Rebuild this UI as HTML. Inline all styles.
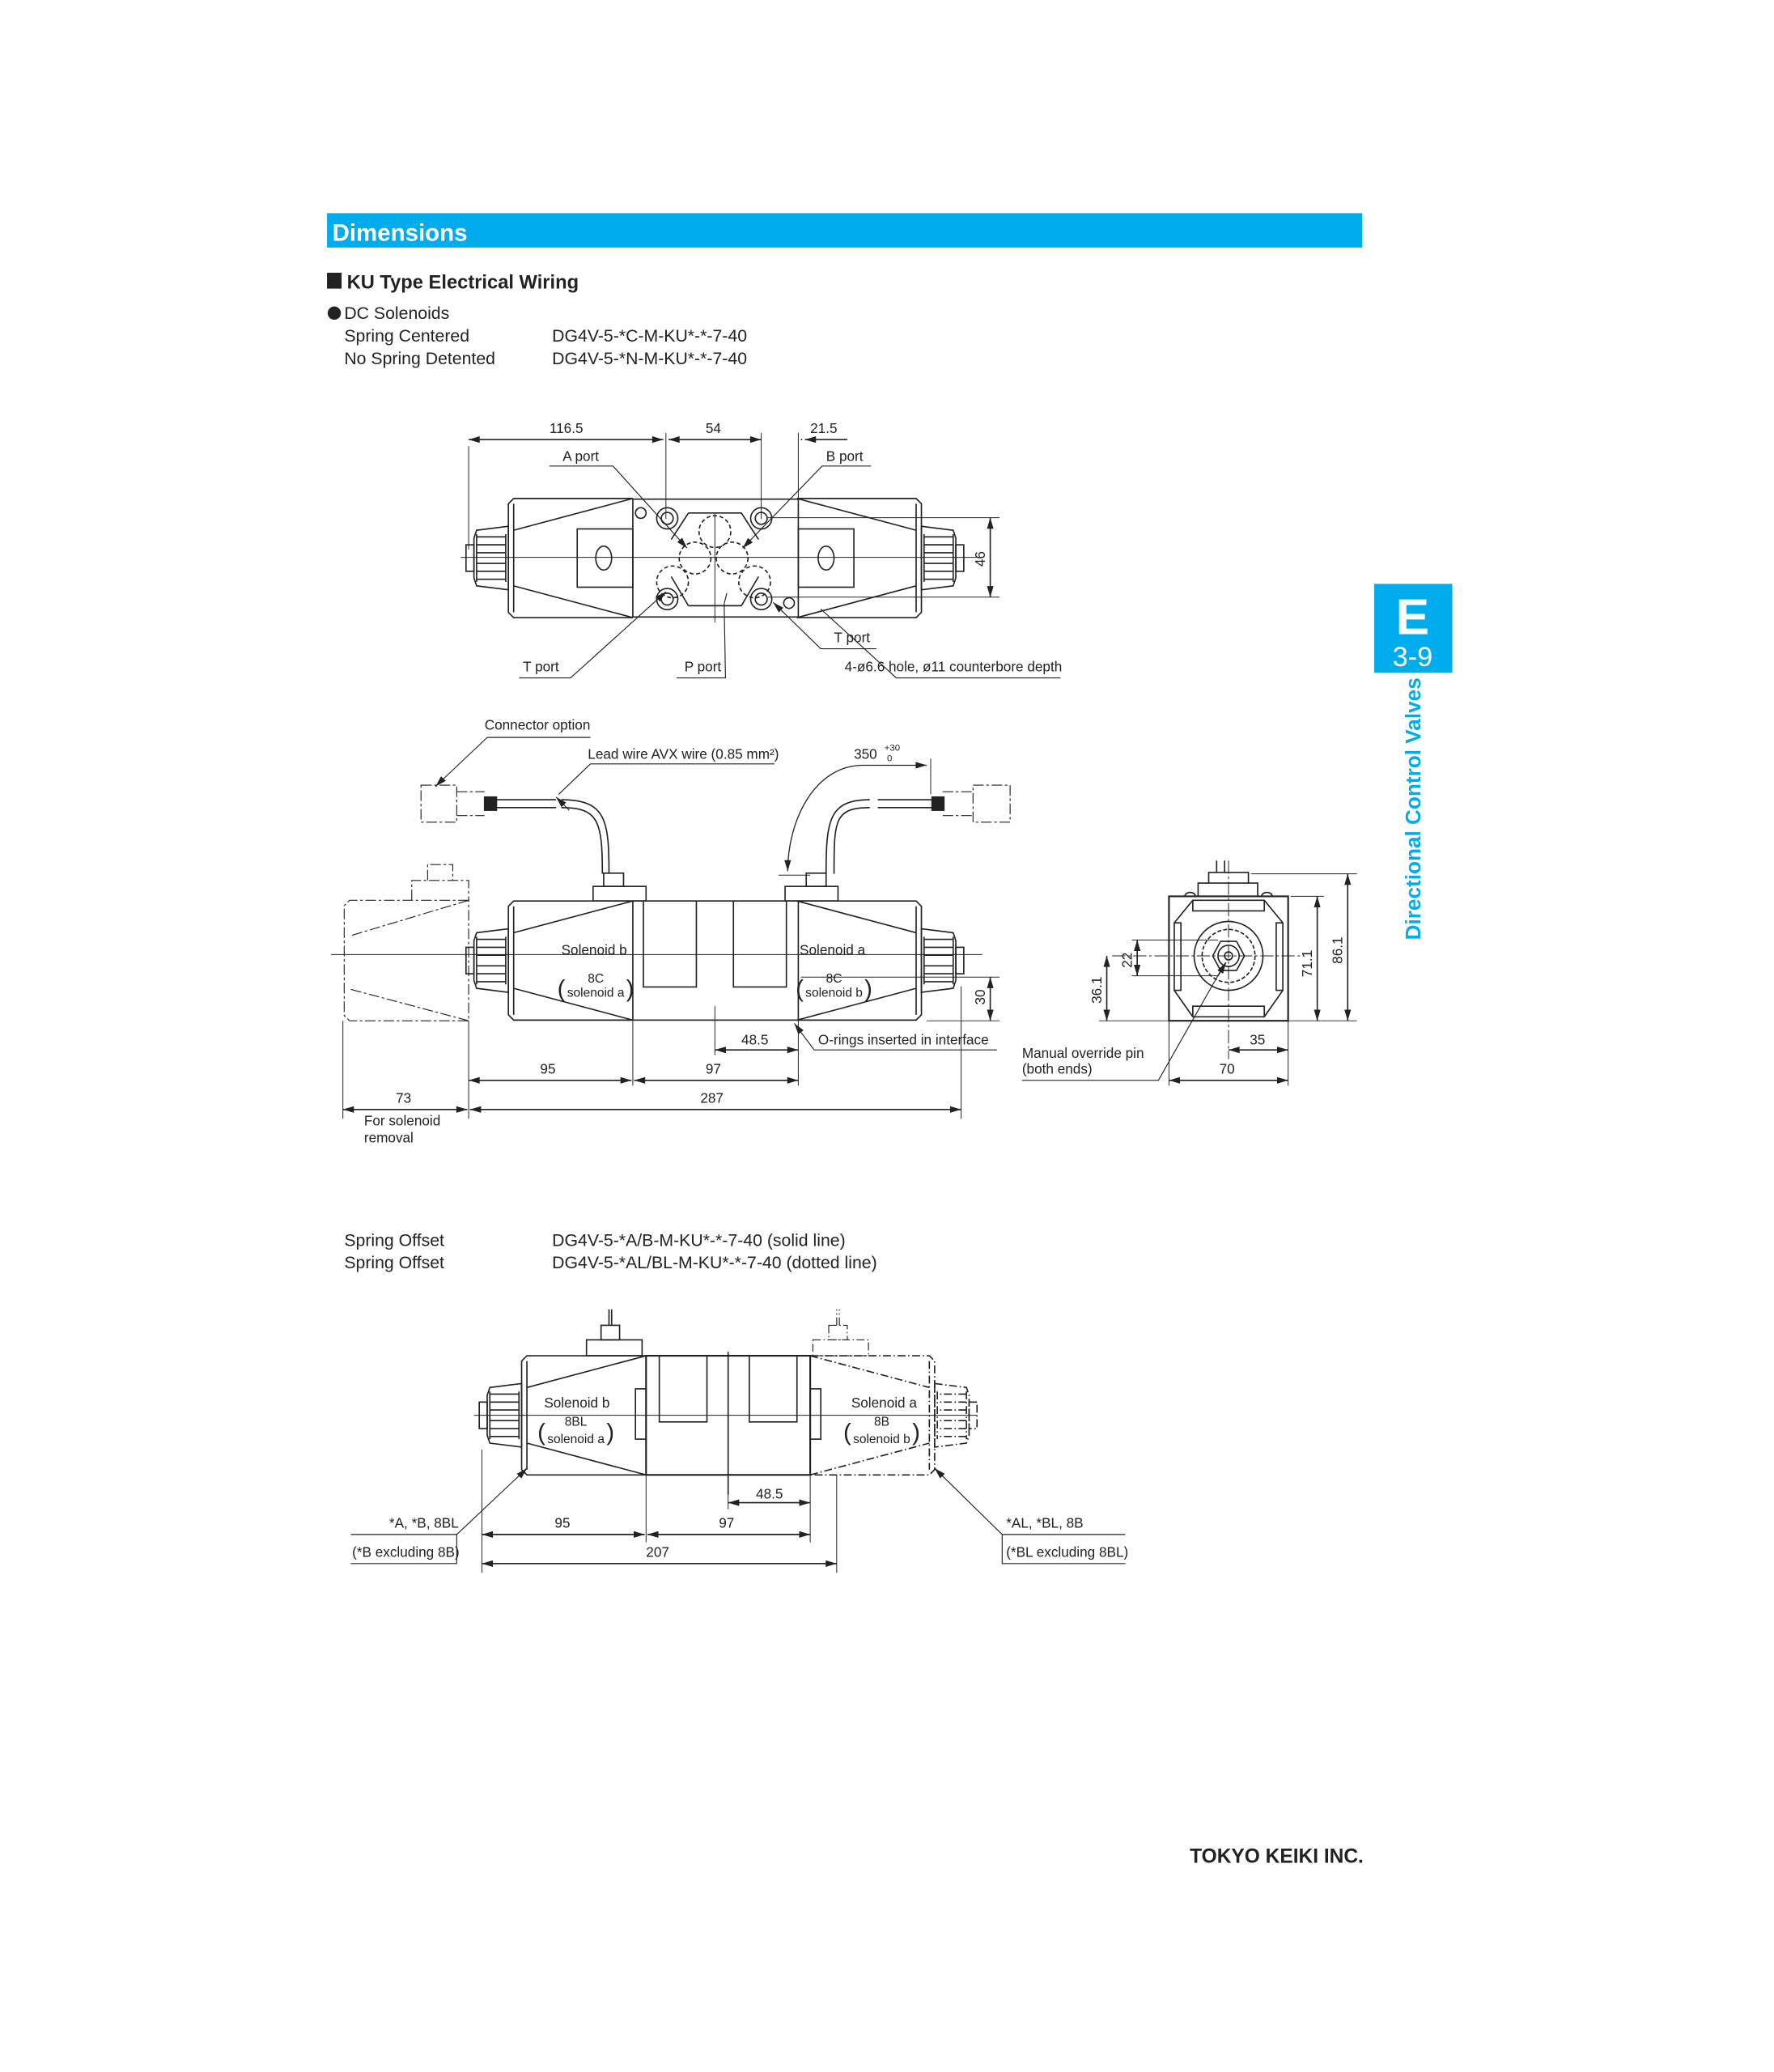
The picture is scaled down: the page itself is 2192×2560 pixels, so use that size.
<!DOCTYPE html>
<html><head><meta charset="utf-8"><style>
html,body{margin:0;padding:0;background:#fff;}
svg{display:block;}
text{font-family:"Liberation Sans",sans-serif;fill:#222;}
.d{font-size:10.5px;}
.s{font-size:9.5px;}
.b{font-size:13px;}
</style></head><body>
<svg width="2192" height="2560" viewBox="0 0 1340 1565" xmlns="http://www.w3.org/2000/svg">
<defs>
<marker id="a" viewBox="0 0 10 6" refX="10" refY="3" markerWidth="9" markerHeight="5" orient="auto-start-reverse" markerUnits="userSpaceOnUse"><path d="M0,0 L10,3 L0,6 Z" fill="#222"/></marker>
<g id="solL" fill="none" stroke="#222" stroke-width="1">
<path d="M-62,-45 L-152,-45 L-156,-41 L-156,41 L-152,45 L-62,45"/>
<path d="M-62,-45 L-152,-21 M-62,45 L-152,21 M-152,-41 L-152,41"/>
<path d="M-156,-24 L-180,-21 L-182,-15 L-182,15 L-180,21 L-156,24 Z"/>
<path d="M-180,-16 h22 M-180,-10 h22 M-180,-4 h22 M-180,4 h22 M-180,10 h22 M-180,16 h22 M-180,-18 v36 M-158,-18 v36"/>
<rect x="-188" y="-10" width="6" height="20"/>
</g>
<g id="solR"><use href="#solL" transform="scale(-1,1)"/></g>
</defs>

<rect x="247" y="161" width="782" height="26" fill="#00acec"/>
<text x="251" y="182" style="font-size:18px;font-weight:bold;fill:#fff">Dimensions</text>
<rect x="247" y="206" width="11" height="12" fill="#222"/>
<text x="262" y="218" style="font-size:14.5px;font-weight:bold">KU Type Electrical Wiring</text>
<circle cx="252.5" cy="236.5" r="5" fill="#222"/>
<text x="260" y="241" class="b">DC Solenoids</text>
<text x="260" y="258" class="b">Spring Centered</text>
<text x="417" y="258" class="b">DG4V-5-*C-M-KU*-*-7-40</text>
<text x="260" y="275" class="b">No Spring Detented</text>
<text x="417" y="275" class="b">DG4V-5-*N-M-KU*-*-7-40</text>

<rect x="1038" y="441" width="59" height="67" fill="#00acec"/>
<text x="1067" y="479" text-anchor="middle" style="font-size:38px;font-weight:bold;fill:#fff">E</text>
<text x="1067" y="503" text-anchor="middle" style="font-size:21px;fill:#fff">3-9</text>
<text transform="translate(1073,710) rotate(-90)" style="font-size:16px;font-weight:bold;fill:#00acec">Directional Control Valves</text>

<!-- TOP VIEW -->
<g stroke="#222" fill="none" stroke-width="1">
<g transform="translate(540,421.5)"><use href="#solL"/><use href="#solR"/>
<rect x="-62" y="-44.5" width="125" height="89"/>
<rect x="-104" y="-22" width="42" height="44"/><rect x="63" y="-22" width="42" height="44"/>
<ellipse cx="-84" cy="0" rx="6" ry="9"/><ellipse cx="84" cy="0" rx="6" ry="9"/>
<path d="M-20,-34 L20,-34 L33,-14 M-20,-34 L-33,-14 M-20,36 L20,36 L33,14 M-20,36 L-33,14"/>
<circle cx="-36" cy="-30" r="8"/><circle cx="-36" cy="-30" r="4.5"/>
<circle cx="35" cy="-30" r="8"/><circle cx="35" cy="-30" r="4.5"/>
<circle cx="-36" cy="31" r="8"/><circle cx="-36" cy="31" r="4.5"/>
<circle cx="35" cy="31" r="8"/><circle cx="35" cy="31" r="4.5"/>
<circle cx="-56" cy="-34" r="4"/><circle cx="56" cy="34" r="4"/>
<g stroke-dasharray="3,2"><circle cx="0" cy="-20" r="12"/><circle cx="-15" cy="0" r="12"/><circle cx="13" cy="0" r="12"/><circle cx="-32" cy="18" r="12"/><circle cx="30" cy="18" r="12"/></g>
</g>
<path d="M348,421 H740 M540,388 V470" stroke-width="0.6"/>
<path d="M354,337 V415 M503,327 V392 M575,327 V392 M603,327 V377" stroke-width="0.6"/>
<path d="M354,332 H501" marker-start="url(#a)" marker-end="url(#a)"/>
<path d="M505,332 H575" marker-start="url(#a)" marker-end="url(#a)"/>
<path d="M608,332 H640 M605,332 H606" marker-start="url(#a)"/>
<path d="M580,391 H755 M580,451 H755" stroke-width="0.6"/>
<path d="M748,391 V451" marker-start="url(#a)" marker-end="url(#a)"/>
<path d="M415,352 H463 L519,414" marker-end="url(#a)" stroke-width="0.7"/>
<path d="M658,352 H621 L561,414" marker-end="url(#a)" stroke-width="0.7"/>
<path d="M392,512 H431 L503,447" marker-end="url(#a)" stroke-width="0.7"/>
<path d="M511,512 H548 L547,456" stroke-width="0.7"/><path d="M547,456 L549,448" stroke-width="0.7"/>
<path d="M620,460 L677,512 H801" stroke-width="0.7"/>
<path d="M662,490 L620,490 L584,455" marker-end="url(#a)" stroke-width="0.7"/>
</g>
<text x="415" y="327" class="d">116.5</text><text x="533" y="327" class="d">54</text><text x="612" y="327" class="d">21.5</text>
<text x="425" y="348" class="d">A port</text><text x="624" y="348" class="d">B port</text>
<text x="395" y="507" class="d">T port</text><text x="517" y="507" class="d">P port</text>
<text x="630" y="485" class="d">T port</text><text x="638" y="507" class="d">4-ø6.6 hole, ø11 counterbore depth</text>
<text transform="translate(744,428) rotate(-90)" class="d">46</text>

<!-- FRONT VIEW -->
<g stroke="#222" fill="none" stroke-width="1">
<g transform="translate(540,725.5)"><use href="#solL"/><use href="#solR"/>
<rect x="-62" y="-45" width="125" height="90"/>
<path d="M-54,-45 V20 H-14 V-45 M14,-45 V20 H54 V-45"/>
<rect x="-92" y="-56" width="40" height="11"/><rect x="-84" y="-66" width="15" height="10"/>
<rect x="53" y="-56" width="40" height="11"/><rect x="69" y="-66" width="15" height="10"/>
</g>
<g stroke-dasharray="8,2,2,2" stroke-width="0.7">
<path d="M354,680 H264 L260,684 V767 L264,771 H354 Z M354,680 L264,707 M354,771 L264,747"/>
<path d="M311,680 V665 H354 V680 M323,665 V653 H342 V665"/>
<path d="M318,593 H345 V621 H318 Z M345,598 H366 M345,616 H366 M712,598 H735 M712,616 H735 M735,593 H763 V621 H735 Z"/>
</g>
<path d="M250,721 H742" stroke-width="0.6"/>
<path d="M368,604 H420 M368,610 H420 M663,604 H712 M663,610 H712"/>
<rect x="366" y="602" width="9" height="10" fill="#222"/><rect x="704" y="602" width="9" height="10" fill="#222"/>
<path d="M424,604 C458,604 460,620 460,660 M424,610 C452,610 455,620 455,660"/>
<path d="M657,604 C626,604 624,620 624,660 M657,610 C630,610 630,620 630,660"/>
<path d="M430,612 L420,602" marker-end="url(#a)" stroke-width="0.7"/>
<path d="M446,577 H585 M446,577 L422,600" stroke-width="0.7"/>
<path d="M368,557 H446 M368,557 L330,593" stroke-width="0.7"/><path d="M335,588 L329,594" marker-end="url(#a)"/>
<path d="M700,578 H652 C615,578 595,620 595,658" marker-start="url(#a)" marker-end="url(#a)" stroke-width="0.8"/>
<path d="M703,573 V600 M588,661 H612" stroke-width="0.6"/>
<path d="M354,771 V820 M478,771 V820 M603,771 V820 M540,760 V797 M726,745 V845 M259,771 V845 M354,800 V845" stroke-width="0.6"/>
<path d="M605,738 H755 M700,771 H755" stroke-width="0.6"/>
<path d="M748,738 V771" marker-start="url(#a)" marker-end="url(#a)"/>
<path d="M540,793 H603" marker-start="url(#a)" marker-end="url(#a)"/>
<path d="M354,816 H477" marker-start="url(#a)" marker-end="url(#a)"/>
<path d="M479,816 H603" marker-start="url(#a)" marker-end="url(#a)"/>
<path d="M259,838 H353" marker-start="url(#a)" marker-end="url(#a)"/>
<path d="M355,838 H726" marker-start="url(#a)" marker-end="url(#a)"/>
<path d="M753,793 H615 L600,773" marker-end="url(#a)" stroke-width="0.7"/>
</g>
<text x="424" y="721" class="d">Solenoid b</text><text x="604" y="721" class="d">Solenoid a</text>
<text x="450" y="742" class="s" text-anchor="middle">8C</text><text x="450" y="753" class="s" text-anchor="middle">solenoid a</text>
<text x="630" y="742" class="s" text-anchor="middle">8C</text><text x="630" y="753" class="s" text-anchor="middle">solenoid b</text>
<text x="421" y="753" style="font-size:18px">(</text><text x="473" y="753" style="font-size:18px">)</text>
<text x="601" y="753" style="font-size:18px">(</text><text x="653" y="753" style="font-size:18px">)</text>
<text transform="translate(744,759) rotate(-90)" class="d">30</text>
<text x="560" y="789" class="d">48.5</text><text x="618" y="789" class="d">O-rings inserted in interface</text>
<text x="408" y="811" class="d">95</text><text x="533" y="811" class="d">97</text>
<text x="299" y="833" class="d">73</text><text x="529" y="833" class="d">287</text>
<text x="275" y="850" class="d">For solenoid</text><text x="275" y="863" class="d">removal</text>
<text x="366" y="551" class="d">Connector option</text>
<text x="444" y="573" class="d">Lead wire AVX wire (0.85 mm²)</text>
<text x="645" y="573" class="d">350</text><text x="668" y="567" style="font-size:7px">+30</text><text x="670" y="575" style="font-size:7px">0</text>

<!-- END VIEW -->
<g stroke="#222" fill="none" stroke-width="1">
<rect x="883" y="677" width="90" height="94" stroke-width="1.3"/>
<path d="M901,680 H955 L969,697 V748 L955,768 H901 L887,748 V697 Z"/>
<path d="M901,680 V688 H955 V680 M901,768 V760 H955 V768 M887,697 H892 V748 H887 M969,697 H964 V748 H969"/>
<circle cx="928" cy="722" r="26"/><circle cx="928" cy="722" r="20" stroke-dasharray="3,1.5"/>
<path d="M916,722 L922,711 H934 L940,722 L934,733 H922 Z"/>
<circle cx="928" cy="722" r="8"/><circle cx="928" cy="722" r="3"/>
<path d="M905,677 V667 H950 V677 M913,667 V659 H943 V667 M919,659 V650 M925,659 V650"/>
<path d="M895,677 a4,3 0 0 1 8,0 M953,677 a4,3 0 0 1 8,0"/>
<path d="M840,722 H985 M928,650 V800" stroke-width="0.6" stroke-dasharray="10,2,2,2"/>
<path d="M945,660 H1025 M975,677 H1000 M830,771 H1025 M855,710 H920 M855,737 H920" stroke-width="0.6"/>
<path d="M883,771 V820 M973,771 V820" stroke-width="0.6"/>
<path d="M1018,660 V771" marker-start="url(#a)" marker-end="url(#a)"/>
<path d="M995,677 V771" marker-start="url(#a)" marker-end="url(#a)"/>
<path d="M836,722 V771" marker-start="url(#a)" marker-end="url(#a)"/>
<path d="M859,710 V737" marker-start="url(#a)" marker-end="url(#a)"/>
<path d="M928,793 H973" marker-start="url(#a)" marker-end="url(#a)"/>
<path d="M883,816 H973" marker-start="url(#a)" marker-end="url(#a)"/>
<path d="M772,816 H875 L925,728" stroke-width="0.7"/><path d="M920,737 L926,727" marker-end="url(#a)"/>
</g>
<text transform="translate(1014,728) rotate(-90)" class="d">86.1</text>
<text transform="translate(991,738) rotate(-90)" class="d">71.1</text>
<text transform="translate(832,758) rotate(-90)" class="d">36.1</text>
<text transform="translate(855,731) rotate(-90)" class="d">22</text>
<text x="944" y="789" class="d">35</text><text x="921" y="811" class="d">70</text>
<text x="772" y="799" class="d">Manual override pin</text><text x="772" y="811" class="d">(both ends)</text>

<!-- SPRING OFFSET -->
<text x="260" y="941" class="b">Spring Offset</text><text x="417" y="941" class="b">DG4V-5-*A/B-M-KU*-*-7-40 (solid line)</text>
<text x="260" y="958" class="b">Spring Offset</text><text x="417" y="958" class="b">DG4V-5-*AL/BL-M-KU*-*-7-40 (dotted line)</text>

<g stroke="#222" fill="none" stroke-width="1">
<g transform="translate(550,1069)">
<use href="#solL"/>
<g stroke-dasharray="6,2,1,2" stroke-width="0.7"><use href="#solR"/></g>
<rect x="-62" y="-45" width="124" height="90" stroke-width="1.3"/>
<path d="M-52,-45 V5 H-16 V-45 M16,-45 V5 H52 V-45 M0,-48 V60"/>
<rect x="-70" y="-20" width="8" height="38"/><rect x="62" y="-20" width="8" height="38"/>
<rect x="-107" y="-57" width="42" height="12"/><rect x="-96" y="-68" width="14" height="11"/><path d="M-90,-68 V-80 M-88,-68 V-80"/>
<g stroke-dasharray="6,2,1,2" stroke-width="0.7"><rect x="64" y="-57" width="42" height="12"/><rect x="76" y="-68" width="14" height="11"/><path d="M82,-68 V-80 M84,-68 V-80"/></g>
</g>
<path d="M358,1069 H738" stroke-width="0.6"/>
<path d="M364,1095 V1188 M488,1114 V1165 M612,1114 V1165 M632,1114 V1188 M550,1100 V1140" stroke-width="0.6"/>
<path d="M550,1135 H612" marker-start="url(#a)" marker-end="url(#a)"/>
<path d="M364,1159 H487" marker-start="url(#a)" marker-end="url(#a)"/>
<path d="M489,1159 H612" marker-start="url(#a)" marker-end="url(#a)"/>
<path d="M364,1181 H632" marker-start="url(#a)" marker-end="url(#a)"/>
<path d="M265,1159 H345 L397,1110 M345,1159 V1181 H265" stroke-width="0.7"/><path d="M392,1115 L398,1109" marker-end="url(#a)"/>
<path d="M850,1159 H757 L707,1110 M757,1159 V1181 H850" stroke-width="0.7"/><path d="M712,1115 L706,1109" marker-end="url(#a)"/>
</g>
<text x="411" y="1063" class="d">Solenoid b</text><text x="643" y="1063" class="d">Solenoid a</text>
<text x="435" y="1077" class="s" text-anchor="middle">8BL</text><text x="435" y="1090" class="s" text-anchor="middle">solenoid a</text>
<text x="666" y="1077" class="s" text-anchor="middle">8B</text><text x="666" y="1090" class="s" text-anchor="middle">solenoid b</text>
<text x="406" y="1088" style="font-size:18px">(</text><text x="458" y="1088" style="font-size:18px">)</text>
<text x="637" y="1088" style="font-size:18px">(</text><text x="689" y="1088" style="font-size:18px">)</text>
<text x="571" y="1132" class="d">48.5</text>
<text x="419" y="1154" class="d">95</text><text x="543" y="1154" class="d">97</text><text x="488" y="1176" class="d">207</text>
<text x="294" y="1154" class="d">*A, *B, 8BL</text><text x="266" y="1176" class="d">(*B excluding 8B)</text>
<text x="760" y="1154" class="d">*AL, *BL, 8B</text><text x="760" y="1176" class="d">(*BL excluding 8BL)</text>

<text x="1030" y="1407" text-anchor="end" style="font-size:15px;font-weight:bold">TOKYO KEIKI INC.</text>
</svg>
</body></html>
